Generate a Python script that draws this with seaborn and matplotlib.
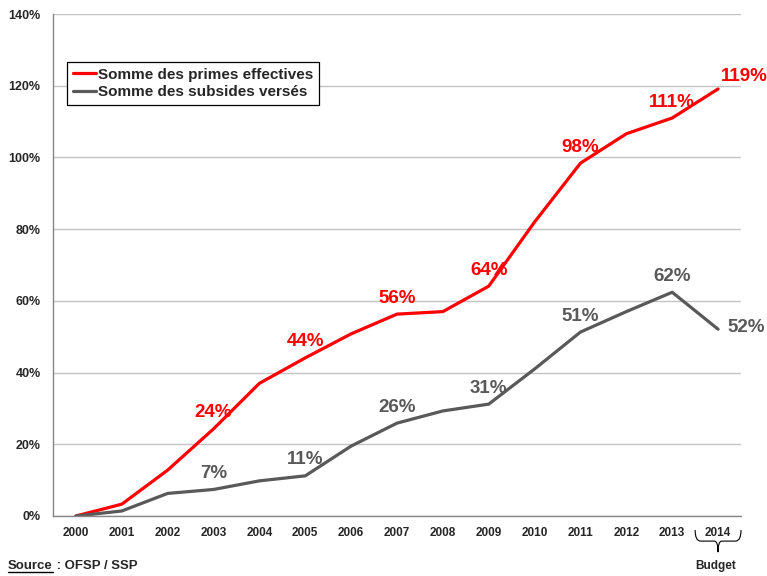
import matplotlib
matplotlib.use("Agg")
import matplotlib.pyplot as plt
from matplotlib.path import Path
from matplotlib.patches import PathPatch
from matplotlib.lines import Line2D
import matplotlib.transforms as mtransforms
import seaborn as sns
import pandas as pd

# ---- data ----
years = [2000, 2001, 2002, 2003, 2004, 2005, 2006, 2007, 2008, 2009, 2010, 2011, 2012, 2013, 2014]
primes = [0, 3.3, 12.8, 24.3, 37.0, 44.1, 50.8, 56.3, 57.0, 64.1, 82.0, 98.4, 106.6, 111.0, 119.1]
subsides = [0, 1.4, 6.3, 7.4, 9.8, 11.2, 19.5, 25.9, 29.3, 31.2, 41.0, 51.3, 57.0, 62.4, 52.1]
series_names = ["Somme des primes effectives", "Somme des subsides versés"]
label_years = [2003, 2005, 2007, 2009, 2011, 2013, 2014]
budget_year = 2014
y_ticks = [0, 20, 40, 60, 80, 100, 120, 140]
source_label = "Source"
source_rest = " : OFSP / SSP"
budget_label = "Budget"

RED = "#FF0000"
GRAY = "#595959"

df = pd.DataFrame({
    "year": years * 2,
    "value": primes + subsides,
    "series": [series_names[0]] * len(years) + [series_names[1]] * len(years),
})

sns.set_style("white")
plt.rcParams["font.family"] = ["Liberation Sans", "DejaVu Sans"]

fig = plt.figure(figsize=(7.67, 5.76), dpi=100)
ax = fig.add_axes([53 / 767, 1 - 516 / 576, (741 - 53) / 767, (516 - 14) / 576])

sns.lineplot(data=df, x="year", y="value", hue="series",
             palette={series_names[0]: RED, series_names[1]: GRAY},
             linewidth=2.3, ax=ax, legend=False, zorder=3)

ax.set_xlim(years[0] - 0.5, years[-1] + 0.5)
ax.set_ylim(0, 140)
ax.set_xlabel("")
ax.set_ylabel("")

# y axis
ax.set_yticks(y_ticks)
ax.set_yticklabels([f"{v}%" for v in y_ticks], fontsize=9, fontweight="bold")
ax.yaxis.grid(True, color="#c4c4c4", linewidth=1.0, zorder=0)
ax.xaxis.grid(False)
ax.tick_params(axis="y", direction="out", length=4, width=1, color="#868686", pad=5)

# x axis: labels at centers, tick marks at boundaries
ax.set_xticks(years)
ax.set_xticklabels([str(y) for y in years], fontsize=8.5, fontweight="bold",
                   family=["Liberation Sans Narrow", "Liberation Sans"])
ax.tick_params(axis="x", which="major", length=0, pad=8)
ax.set_xticks([y - 0.5 for y in years] + [years[-1] + 0.5], minor=True)
ax.tick_params(axis="x", which="minor", direction="out", length=5, width=1, color="#868686")

for s in ["top", "right"]:
    ax.spines[s].set_visible(False)
for s in ["left", "bottom"]:
    ax.spines[s].set_color("#868686")
    ax.spines[s].set_linewidth(1.0)
ax.spines["bottom"].set_zorder(4)

# data labels
for vals, col in [(primes, RED), (subsides, GRAY)]:
    for yr in label_years:
        v = vals[years.index(yr)]
        if yr == budget_year:
            off = (19, 9) if col == RED else (20, 1.5)
        else:
            off = (0, 11.5)
        ax.annotate(f"{round(v)}%", xy=(yr, v), xytext=off, textcoords="offset points",
                    ha="center", va="center", color=col, fontsize=13.5,
                    fontweight="bold", zorder=5)

# legend
handles = [Line2D([0], [0], color=RED, lw=2.3), Line2D([0], [0], color=GRAY, lw=2.3)]
leg = ax.legend(handles, series_names, loc="upper left", bbox_to_anchor=(0.02, 0.905),
                borderaxespad=0, frameon=True, fancybox=False, framealpha=1,
                edgecolor="black", handlelength=1.5, handletextpad=0.12,
                labelspacing=0.2, borderpad=0.4,
                prop={"weight": "bold", "size": 11})
leg.get_frame().set_linewidth(0.9)

# budget brace under the last year
trans = mtransforms.blended_transform_factory(ax.transData, ax.transAxes)
x0, x1, xm = budget_year - 0.5, budget_year + 0.5, budget_year
yt, yh, yb = -0.028, -0.050, -0.072
verts = [(x0, yt), (x0, yh), (x0 + 0.12, yh),
         (xm - 0.08, yh), (xm, yh), (xm, yb),
         (xm, yh), (xm + 0.08, yh),
         (x1 - 0.12, yh), (x1, yh), (x1, yt)]
codes = [Path.MOVETO, Path.CURVE3, Path.CURVE3,
         Path.LINETO, Path.CURVE3, Path.CURVE3,
         Path.CURVE3, Path.CURVE3,
         Path.LINETO, Path.CURVE3, Path.CURVE3]
brace = PathPatch(Path(verts, codes), transform=trans, fill=False,
                  edgecolor="black", linewidth=0.8, clip_on=False)
ax.add_patch(brace)
ax.text(budget_year - 0.05, -0.0996, budget_label, transform=trans, ha="center",
        va="center", fontsize=8.5, fontweight="bold",
        family=["Liberation Sans Narrow", "Liberation Sans"])

# source
t = fig.text(8 / 767, 1 - 566 / 576, source_label, ha="left", va="center",
             fontsize=9.5, fontweight="bold")
fig.canvas.draw()
bb = t.get_window_extent()
fig.add_artist(Line2D([bb.x0, bb.x1], [bb.y0 + 0.5, bb.y0 + 0.5], color="black",
                      linewidth=1.0, transform=None))
ax.annotate(source_rest, xy=(1, 0.5), xycoords=t, ha="left", va="center",
            fontsize=9.5, fontweight="bold", annotation_clip=False)

fig.savefig("out.png", dpi=100)
